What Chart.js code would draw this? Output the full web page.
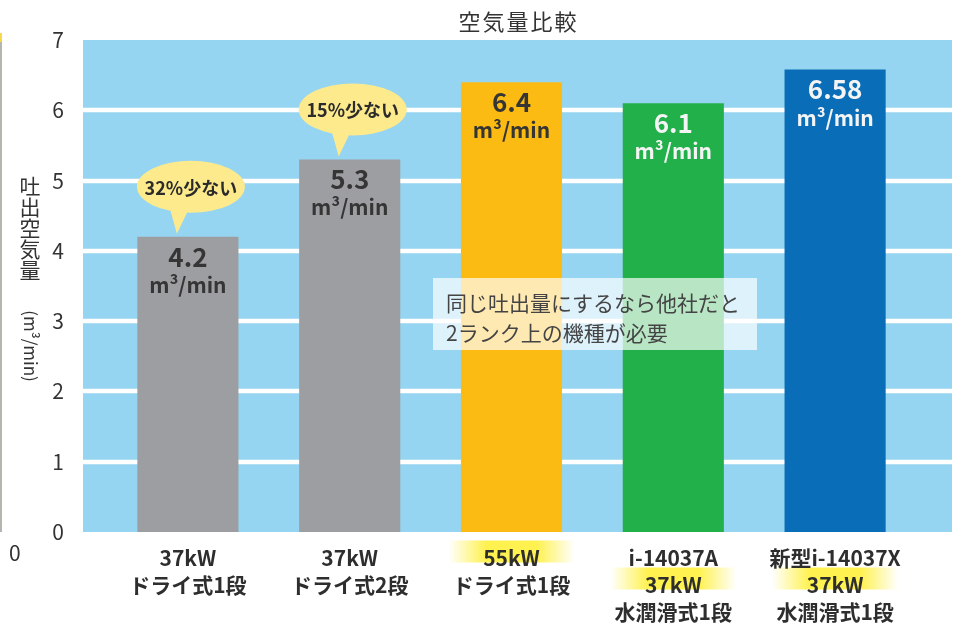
<!DOCTYPE html>
<html lang="ja">
<head>
<meta charset="utf-8">
<title>空気量比較</title>
<script src="https://cdn.jsdelivr.net/npm/chart.js@4.4.1/dist/chart.umd.min.js"></script>
<style>
  html, body { margin: 0; padding: 0; background: #fff; }
  #chart { display: block; }
</style>
</head>
<body>
<canvas id="chart" width="955" height="629"></canvas>
<script>
// 機種ごとの吐出空気量 (m³/min)
const categories = [
  ['37kW', 'ドライ式1段'],
  ['37kW', 'ドライ式2段'],
  ['55kW', 'ドライ式1段'],
  ['i-14037A', '37kW', '水潤滑式1段'],
  ['新型i-14037X', '37kW', '水潤滑式1段']
];
const airflow = [4.2, 5.3, 6.4, 6.1, 6.58];
const yTicks = [0, 1, 2, 3, 4, 5, 6, 7];
const bubbleNotes = ['32%少ない', '15%少ない', null, null, null];
// 黄色マーカーを引くラベル行 (null はなし)
const markedLines = [null, null, 0, 1, 1];
const unitText = 'm³/min';
const titleText = '空気量比較';
const axisTitle = '吐出空気量';
const axisUnit = '(m³/min)';
const noteLines = ['同じ吐出量にするなら他社だと', '2ランク上の機種が必要'];

const barColors = ['#9d9ea1', '#9d9ea1', '#fbbb12', '#22b04b', '#0a6db8'];
const valueColors = ['#353535', '#353535', '#353535', '#f4f4f4', '#f4f4f4'];

const FONT = "'Noto Sans CJK JP', 'Noto Sans', sans-serif";
const BG_LEFT = 83;
const BG_RIGHT = 952;
const LABEL_LINE = 27;
const LABEL_PAD = 5;

// 背景・グリッド・ラベルのマーカー (目盛りより先に描く)
const backdropPlugin = {
  id: 'backdrop',
  beforeDraw(chart) {
    const { ctx, scales: { x, y }, chartArea } = chart;
    const top = y.getPixelForValue(yTicks[yTicks.length - 1]);
    const bottom = y.getPixelForValue(yTicks[0]);
    ctx.save();
    ctx.fillStyle = '#96d5f1';
    ctx.fillRect(BG_LEFT, top, BG_RIGHT - BG_LEFT, bottom - top);

    ctx.strokeStyle = '#ffffff';
    ctx.lineWidth = 4.5;
    yTicks.slice(1, -1).forEach(v => {
      const py = Math.round(y.getPixelForValue(v));
      ctx.beginPath();
      ctx.moveTo(BG_LEFT, py);
      ctx.lineTo(BG_RIGHT, py);
      ctx.stroke();
    });

    markedLines.forEach((line, i) => {
      if (line === null) return;
      const cx = x.getPixelForTick(i);
      const cy = chartArea.bottom + LABEL_PAD + LABEL_LINE / 2 + line * LABEL_LINE + 1;
      const w = 126, h = 22;
      const g = ctx.createLinearGradient(cx - w / 2, 0, cx + w / 2, 0);
      g.addColorStop(0, 'rgba(255, 240, 60, 0)');
      g.addColorStop(0.3, 'rgba(255, 240, 60, 0.9)');
      g.addColorStop(0.7, 'rgba(255, 240, 60, 0.9)');
      g.addColorStop(1, 'rgba(255, 240, 60, 0)');
      ctx.fillStyle = g;
      ctx.fillRect(cx - w / 2, cy - h / 2, w, h);
    });
    ctx.restore();
  }
};

// 棒内の数値・吹き出し・注記・タイトル
const overlayPlugin = {
  id: 'overlay',
  afterDatasetsDraw(chart) {
    const { ctx, scales: { y } } = chart;
    const bars = chart.getDatasetMeta(0).data;
    ctx.save();
    ctx.textAlign = 'center';
    ctx.textBaseline = 'middle';

    bars.forEach((bar, i) => {
      ctx.fillStyle = valueColors[i];
      ctx.font = `bold 26px ${FONT}`;
      ctx.fillText(String(airflow[i]), bar.x, bar.y + 20);
      ctx.font = `bold 21px ${FONT}`;
      ctx.fillText(unitText, bar.x, bar.y + 48);
    });

    bars.forEach((bar, i) => {
      const note = bubbleNotes[i];
      if (!note) return;
      const cx = bar.x + 3;
      const cy = bar.y - 50;
      const rx = 54, ry = 26;
      ctx.fillStyle = '#fdea8c';
      ctx.beginPath();
      ctx.moveTo(cx - 22, cy + ry - 8);
      ctx.lineTo(bar.x - 11, bar.y - 3);
      ctx.lineTo(cx - 2, cy + ry - 4);
      ctx.closePath();
      ctx.fill();
      ctx.beginPath();
      ctx.ellipse(cx, cy, rx, ry, 0, 0, Math.PI * 2);
      ctx.fill();
      ctx.fillStyle = '#2b2b2b';
      ctx.font = `bold 18px ${FONT}`;
      ctx.fillText(note, cx, cy + 1);
    });

    // 注記ボックス
    ctx.fillStyle = 'rgba(255, 255, 255, 0.68)';
    ctx.fillRect(433, 278, 324, 72);
    ctx.fillStyle = '#444444';
    ctx.textAlign = 'left';
    ctx.font = `21px ${FONT}`;
    noteLines.forEach((t, k) => ctx.fillText(t, 446, 303 + k * 30));

    // タイトル
    ctx.textAlign = 'center';
    ctx.fillStyle = '#333333';
    ctx.font = `22px ${FONT}`;
    ctx.letterSpacing = '2px';
    ctx.fillText(titleText, (BG_LEFT + BG_RIGHT) / 2 + 1, 22);
    ctx.letterSpacing = '0px';

    // 縦軸タイトル (漢字は縦書き、単位は回転)
    ctx.font = `21px ${FONT}`;
    [...axisTitle].forEach((ch, k) => ctx.fillText(ch, 30, 186 + k * 21));
    ctx.translate(30, 346);
    ctx.rotate(Math.PI / 2);
    ctx.font = `17px ${FONT}`;
    ctx.fillText(axisUnit, 0, 0);
    ctx.restore();

    // 左端の隣接グラフの一部
    ctx.save();
    ctx.fillStyle = '#b5b5b0';
    ctx.fillRect(0, 42, 2, y.getPixelForValue(0) - 42);
    ctx.fillStyle = '#f7d84a';
    ctx.fillRect(0, 33, 2, 9);
    ctx.fillStyle = '#333333';
    ctx.font = `21px ${FONT}`;
    ctx.textBaseline = 'middle';
    ctx.fillText('0', 9, 553);
    ctx.restore();
  }
};

new Chart(document.getElementById('chart'), {
  type: 'bar',
  data: {
    labels: categories,
    datasets: [{
      data: airflow,
      backgroundColor: barColors,
      borderWidth: 0,
      barPercentage: 0.625,
      categoryPercentage: 1
    }]
  },
  options: {
    responsive: false,
    animation: false,
    layout: { padding: { top: 40, right: 39, bottom: 0, left: 0 } },
    plugins: {
      legend: { display: false },
      tooltip: { enabled: false }
    },
    scales: {
      x: {
        grid: { display: false },
        border: { display: false },
        ticks: {
          color: '#2e2e2e',
          padding: LABEL_PAD,
          font: { family: FONT, size: 21, weight: 'bold', lineHeight: LABEL_LINE + 'px' }
        },
        afterFit(scale) { scale.height = 97; }
      },
      y: {
        min: 0,
        max: 7,
        grid: { display: false },
        border: { display: false },
        afterBuildTicks(scale) { scale.ticks = yTicks.map(v => ({ value: v })); },
        ticks: {
          color: '#333333',
          padding: 35,
          font: { family: FONT, size: 21 }
        },
        afterFit(scale) {
          // 目盛りラベルの余白は上下の配置に影響させない
          scale.width = 107;
          scale.paddingTop = 0;
          scale.paddingBottom = 0;
        }
      }
    }
  },
  plugins: [backdropPlugin, overlayPlugin]
});
</script>
</body>
</html>
